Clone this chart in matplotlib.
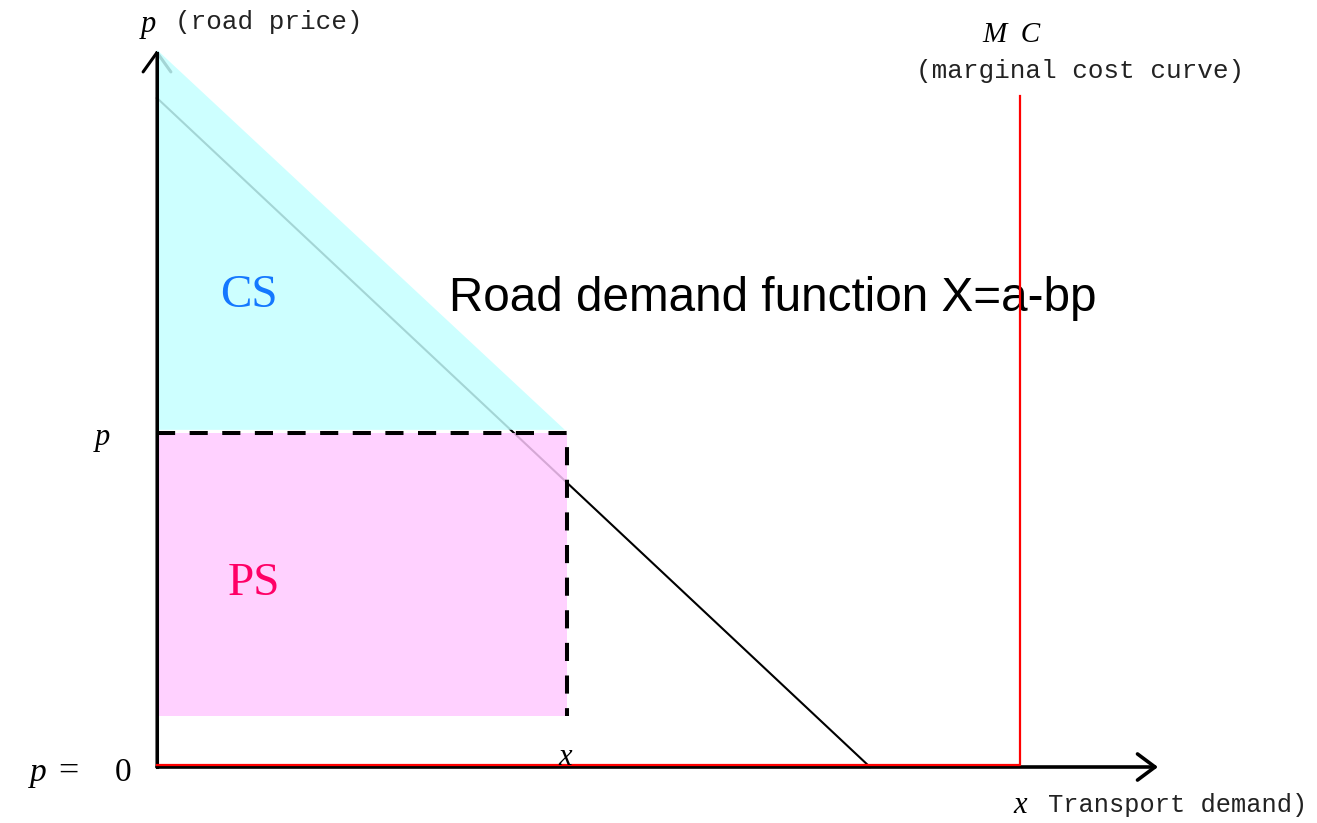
import matplotlib
matplotlib.use('Agg')
import matplotlib.pyplot as plt
import matplotlib.transforms as mtransforms
from matplotlib.patches import Polygon, Rectangle

# demand curve X = a - bp  (quantity, price)
demand_q = [0.0, 10.0]
demand_p = [10.0, 0.0]

# marginal cost curve: flat along the axis, then vertical
mc_q = [0.0, 12.1, 12.1]
mc_p = [0.0, 0.0, 10.0]

# equilibrium price / quantity
p_star = 5.0
q_star = 5.75
ps_floor = 0.76

# consumer surplus triangle
cs_q = [0.0, 5.72, 0.0]
cs_p = [10.72, 5.04, 5.04]

# axis extents
x_end = 14.04
y_end = 10.72

mono = 'Liberation Mono'
serif = 'Liberation Serif'
sans = 'Liberation Sans'

fig = plt.figure(figsize=(13.17, 8.23), dpi=100)
ax = fig.add_axes([0, 0, 1, 1])
ax.set_xlim(-2.202, 16.27)
ax.set_ylim(-0.837, 11.465)
ax.axis('off')

# demand line (underneath the shaded areas)
ax.plot(demand_q, demand_p, color='black', lw=1.5, zorder=1)

# y axis arrow (head partly under the overlay)
ax.annotate('', xy=(0, y_end), xytext=(0, 0),
            arrowprops=dict(arrowstyle='->,head_length=0.7,head_width=0.5',
                            lw=2.2, color='black', shrinkA=0, shrinkB=0,
                            mutation_scale=20), zorder=1)

# shaded surplus areas
cs = Polygon(list(zip(cs_q, cs_p)), closed=True, facecolor=(0.77, 1.0, 1.0),
             alpha=0.84, edgecolor='none', zorder=2)
ax.add_patch(cs)
ps = Rectangle((0, ps_floor), q_star, p_star - ps_floor,
               facecolor=(1.0, 0.79, 1.0), alpha=0.84, edgecolor='none', zorder=2)
ax.add_patch(ps)

# axes lines on top
ax.plot([0, 0], [0, y_end - 0.05], color='black', lw=2.2, zorder=3)
ax.annotate('', xy=(x_end, 0), xytext=(0, 0),
            arrowprops=dict(arrowstyle='->,head_length=0.63,head_width=0.47',
                            lw=2.6, color='black', shrinkA=0, shrinkB=0,
                            mutation_scale=20), zorder=3)

# marginal cost curve, nudged a touch above the x axis
up = mtransforms.offset_copy(ax.transData, fig=fig, y=2, units='dots')
ax.plot(mc_q, mc_p, color='red', lw=1.6, zorder=4, transform=up)

# dashed equilibrium box
ax.plot([0, q_star, q_star], [p_star, p_star, ps_floor], color='black',
        lw=2.9, linestyle=(0, (4.5, 3.6)), zorder=4)

# labels
ax.text(-0.126, 10.99, 'p', fontsize=22, family=serif, style='italic',
        ha='center', va='baseline')
ax.text(0.252, 11.03, '(road price)', fontsize=18.7, family=mono,
        ha='left', va='baseline', color='#222222')
ax.text(11.99, 10.84, 'M  C', fontsize=21, family=serif, style='italic',
        ha='center', va='baseline')
ax.text(12.94, 10.3, '(marginal cost curve)', fontsize=18.7, family=mono,
        ha='center', va='baseline', color='#222222')

ax.text(1.29, 7.05, 'CS', fontsize=34, family=serif, color='#1478FF',
        ha='center', va='center', zorder=5)
ax.text(1.36, 2.74, 'PS', fontsize=34, family=serif, color='#FF0066',
        ha='center', va='center', zorder=5)

ax.text(4.095, 6.82, 'Road demand function X=a-bp', fontsize=34.3, family=sans,
        ha='left', va='baseline', zorder=3)

ax.text(-0.77, 4.81, 'p', fontsize=22, family=serif, style='italic',
        ha='center', va='baseline')
ax.text(-1.669, -0.21, 'p', fontsize=24, family=serif, style='italic',
        ha='center', va='baseline')
ax.text(-1.248, -0.21, '=', fontsize=26, family=serif,
        ha='center', va='baseline')
ax.text(-0.477, -0.21, '0', fontsize=24, family=serif,
        ha='center', va='baseline')
ax.text(5.72, 0.03, 'x', fontsize=22, family=serif, style='italic',
        ha='center', va='baseline', zorder=5)
ax.text(12.1, -0.69, 'x', fontsize=22, family=serif, style='italic',
        ha='center', va='baseline')
ax.text(12.5, -0.67, 'Transport demand)', fontsize=18.3, family=mono,
        ha='left', va='baseline', color='#222222')

plt.savefig('out.png', dpi=100)
